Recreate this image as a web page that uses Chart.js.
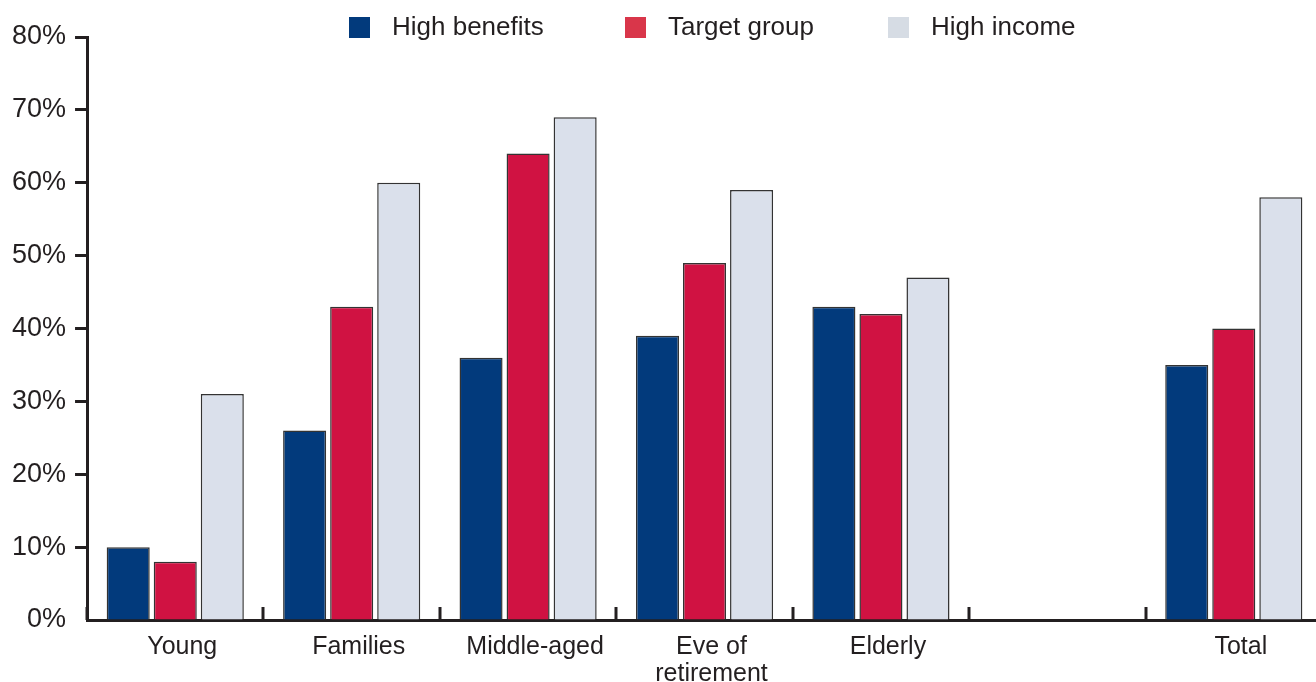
<!DOCTYPE html>
<html>
<head>
<meta charset="utf-8">
<script src="https://cdn.jsdelivr.net/npm/chart.js@4/dist/chart.umd.min.js"></script>
<style>
  html, body { margin: 0; padding: 0; background: #fff; overflow: hidden; }
  #wrap { width: 1322px; height: 682px; }
</style>
</head>
<body>
<div id="wrap"><canvas id="myChart"></canvas></div>
<script>
// categories (the 6th slot is an empty gap before Total)
const categories = ['Young', 'Families', 'Middle-aged', ['Eve of', 'retirement'], 'Elderly', '', 'Total'];

const highBenefits = [10, 26, 36, 39, 43, null, 35];
const targetGroup  = [8, 43, 64, 49, 42, null, 40];
const highIncome   = [31, 60, 69, 59, 47, null, 58];

const seriesNames = ['High benefits', 'Target group', 'High income'];
const barColors = ['#023a7c', '#d01242', '#dae0eb'];
const legendColors = ['#023a7c', '#d9364a', '#d6dce4'];

const yTicks = [0, 10, 20, 30, 40, 50, 60, 70, 80];

const FONT = '"Liberation Sans", Arial, Helvetica, sans-serif';
const INK = '#231f20';

// small upward ticks at the category boundaries on the x axis
const xTickMarks = {
    id: 'xTickMarks',
    afterDraw(chart) {
        const x = chart.scales.x;
        const ctx = chart.ctx;
        const half = (x.getPixelForValue(1) - x.getPixelForValue(0)) / 2;
        const bottom = chart.chartArea.bottom;
        ctx.save();
        ctx.strokeStyle = INK;
        ctx.lineWidth = 3;
        for (let i = 0; i <= categories.length; i++) {
            const px = Math.round(x.getPixelForValue(i) - half);
            ctx.beginPath();
            ctx.moveTo(px, bottom);
            ctx.lineTo(px, bottom - 13);
            ctx.stroke();
        }
        ctx.restore();
    }
};

// legend drawn across the top, placed like the original
const legendX = [349, 625, 888];
const topLegend = {
    id: 'topLegend',
    afterDraw(chart) {
        const ctx = chart.ctx;
        ctx.save();
        ctx.font = '26px ' + FONT;
        ctx.textBaseline = 'middle';
        const y = 27;
        seriesNames.forEach(function(name, i) {
            ctx.fillStyle = legendColors[i];
            ctx.fillRect(legendX[i], y - 10, 21, 21);
            ctx.fillStyle = INK;
            ctx.fillText(name, legendX[i] + 43, y + 1);
        });
        ctx.restore();
    }
};

let ctx = document.getElementById('myChart');

let myChart = new Chart(ctx, {
    type: 'bar',
    data: {
        labels: categories,
        datasets: [{
            label: seriesNames[0],
            data: highBenefits,
            backgroundColor: barColors[0],
            borderColor: '#333',
            borderWidth: 1.5
        },{
            label: seriesNames[1],
            data: targetGroup,
            backgroundColor: barColors[1],
            borderColor: '#333',
            borderWidth: 1.5
        },{
            label: seriesNames[2],
            data: highIncome,
            backgroundColor: barColors[2],
            borderColor: '#333',
            borderWidth: 1.5
        }]
    },
    options: {
        responsive: true,
        maintainAspectRatio: false,
        animation: false,
        categoryPercentage: 0.8,
        barPercentage: 0.915,
        layout: {
            padding: { top: 37, left: 3, right: 0, bottom: -20 }
        },
        plugins: {
            legend: { display: false },
            tooltip: { enabled: false }
        },
        scales: {
            x: {
                grid: {
                    display: true,
                    drawOnChartArea: false,
                    drawTicks: false
                },
                border: {
                    display: true,
                    color: INK,
                    width: 3
                },
                ticks: {
                    color: INK,
                    padding: 14,
                    labelOffset: 7,
                    maxRotation: 0,
                    autoSkip: false,
                    font: { family: FONT, size: 25, lineHeight: 1.08 }
                }
            },
            y: {
                min: 0,
                max: 80,
                afterBuildTicks: function(axis) {
                    axis.ticks = yTicks.map(function(v) { return { value: v }; });
                },
                grid: {
                    drawOnChartArea: false,
                    drawTicks: true,
                    tickLength: 12,
                    tickWidth: 3,
                    tickColor: function(c) { return c.tick && c.tick.value === 0 ? 'rgba(0,0,0,0)' : INK; }
                },
                border: {
                    display: true,
                    color: INK,
                    width: 3
                },
                ticks: {
                    color: INK,
                    padding: 9,
                    font: { family: FONT, size: 27 },
                    callback: function(v) { return v + '%'; }
                }
            }
        }
    },
    plugins: [xTickMarks, topLegend]
});
</script>
</body>
</html>
